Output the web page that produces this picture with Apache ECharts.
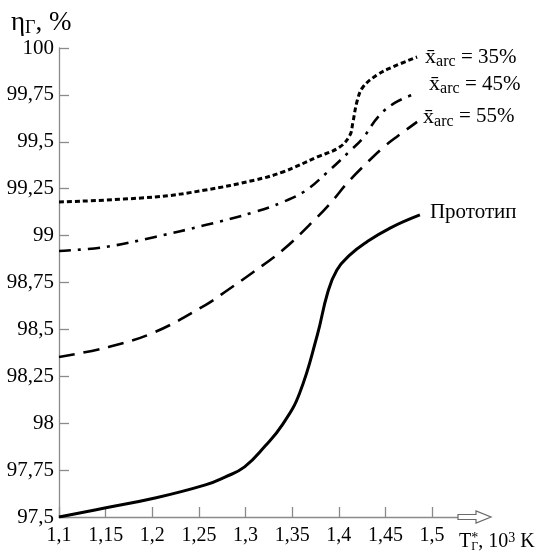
<!DOCTYPE html>
<html><head><meta charset="utf-8">
<script src="https://cdn.jsdelivr.net/npm/echarts@6/dist/echarts.min.js"></script>
<style>html,body{margin:0;padding:0;background:#fff}#c{width:536px;height:555px}</style>
</head><body><div id="c"></div>
<script>
// ---- data ----
const xTicks = [1.1, 1.15, 1.2, 1.25, 1.3, 1.35, 1.4, 1.45, 1.5];

const protoT   = [1.100, 1.149, 1.203, 1.257, 1.278, 1.299, 1.321, 1.340, 1.358, 1.377, 1.388, 1.398, 1.412, 1.430, 1.455, 1.487];
const protoEta = [97.500, 97.548, 97.601, 97.671, 97.713, 97.767, 97.878, 97.995, 98.160, 98.470, 98.694, 98.817, 98.897, 98.966, 99.040, 99.110];

const arc35T   = [1.100, 1.203, 1.257, 1.310, 1.340, 1.377, 1.401, 1.412, 1.415, 1.420, 1.426, 1.441, 1.458, 1.484];
const arc35Eta = [99.179, 99.206, 99.243, 99.296, 99.339, 99.419, 99.472, 99.536, 99.600, 99.723, 99.792, 99.856, 99.899, 99.952];

const arc45T   = [1.100, 1.149, 1.203, 1.257, 1.310, 1.340, 1.364, 1.388, 1.412, 1.426, 1.442, 1.460, 1.484];
const arc45Eta = [98.918, 98.939, 98.993, 99.056, 99.126, 99.179, 99.238, 99.339, 99.451, 99.520, 99.632, 99.707, 99.760];

const arc55T   = [1.100, 1.153, 1.203, 1.257, 1.281, 1.307, 1.340, 1.377, 1.394, 1.409, 1.430, 1.447, 1.462, 1.484];
const arc55Eta = [98.353, 98.406, 98.486, 98.630, 98.710, 98.801, 98.923, 99.099, 99.190, 99.280, 99.387, 99.467, 99.526, 99.606];

const seriesNames = ['35%', '45%', '55%', 'Прототип'];

// ---- chart ----
const FONT = '"Liberation Serif", "Times New Roman", serif';
const zip = (a, b) => a.map((v, i) => [v, b[i]]);
const fmt = v => String(+(+v).toFixed(2)).replace('.', ',');
const AX = '#8a8a8a';

const arcRich = {
  x: {fontFamily: FONT, fontSize: 22, color: '#000', lineHeight: 26},
  s: {fontFamily: FONT, fontSize: 16, color: '#000', lineHeight: 16, verticalAlign: 'bottom'},
  t: {fontFamily: FONT, fontSize: 21, color: '#000', lineHeight: 26}
};
const arcLabel = (name, off) => ({
  show: true, distance: 0, offset: off,
  formatter: '{x|x\u0304}{s|arc}{t| = ' + name + '}',
  rich: arcRich
});

const base = {type: 'line', showSymbol: false, smooth: 0.4, silent: true};

const chart = echarts.init(document.getElementById('c'));
chart.setOption({
  animation: false,
  backgroundColor: '#fff',
  grid: {left: 59, top: 48, right: 76, bottom: 38},
  xAxis: {
    type: 'value', min: 1.1, max: 1.53, interval: 0.05,
    axisLine: {show: true, lineStyle: {color: AX, width: 1.3}},
    axisTick: {show: true, inside: true, length: 10, lineStyle: {color: AX, width: 1.3}, customValues: xTicks},
    axisLabel: {customValues: xTicks, formatter: fmt, fontFamily: FONT, fontSize: 20, color: '#000', margin: 9},
    splitLine: {show: false}
  },
  yAxis: {
    type: 'value', min: 97.5, max: 100, interval: 0.25,
    axisLine: {show: true, lineStyle: {color: AX, width: 1.3}},
    axisTick: {show: true, inside: true, length: 10, lineStyle: {color: AX, width: 1.3}},
    axisLabel: {formatter: fmt, fontFamily: FONT, fontSize: 21, color: '#000', margin: 5},
    splitLine: {show: false}
  },
  series: [
    Object.assign({}, base, {name: seriesNames[0], data: zip(arc35T, arc35Eta),
      lineStyle: {color: '#000', width: 3, type: [5, 3]},
      endLabel: arcLabel(seriesNames[0], [8, 0])}),
    Object.assign({}, base, {name: seriesNames[1], data: zip(arc45T, arc45Eta),
      lineStyle: {color: '#000', width: 2.6, type: [12, 7, 3, 7]},
      endLabel: arcLabel(seriesNames[1], [12, -9])}),
    Object.assign({}, base, {name: seriesNames[2], data: zip(arc55T, arc55Eta),
      lineStyle: {color: '#000', width: 2.6, type: [16, 9]},
      endLabel: arcLabel(seriesNames[2], [6, -5])}),
    Object.assign({}, base, {name: seriesNames[3], data: zip(protoT, protoEta), smooth: 0.45,
      lineStyle: {color: '#000', width: 3},
      endLabel: {show: true, distance: 0, offset: [10, -2], formatter: seriesNames[3],
        fontFamily: FONT, fontSize: 21, color: '#000'}})
  ]
});

// decorations: hollow arrow at end of x axis and axis names
const end = chart.convertToPixel({gridIndex: 0}, [1.53, 97.5]);
const ex = end[0], ey = end[1];
chart.setOption({
  graphic: [
    {type: 'polygon', shape: {points: [[ex - 2, ey - 2.5], [ex + 16, ey - 2.5], [ex + 16, ey - 6], [ex + 31, ey], [ex + 16, ey + 6], [ex + 16, ey + 2.5], [ex - 2, ey + 2.5]]},
      style: {fill: '#fff', stroke: '#6a6a6a', lineWidth: 1.2}, z: 10},
    {type: 'text', left: 11, top: 9, z: 10,
      style: {text: '{m|\u03b7}{s|\u0393}{m|, %}', rich: {
        m: {fontFamily: FONT, fontSize: 27, color: '#000', lineHeight: 30},
        s: {fontFamily: FONT, fontSize: 18, color: '#000', lineHeight: 18, verticalAlign: 'bottom'}
      }}},
    {type: 'text', left: 459, top: 531, z: 10,
      style: {text: '{m|T}{u|*}{s|\u0393}{m|, 10}{p|3}{m| K}', rich: {
        m: {fontFamily: FONT, fontSize: 20, color: '#000', lineHeight: 22},
        u: {fontFamily: FONT, fontSize: 14, color: '#000', lineHeight: 14, verticalAlign: 'top'},
        s: {fontFamily: FONT, fontSize: 12, color: '#000', lineHeight: 12, verticalAlign: 'bottom', padding: [0, 0, 0, -7]},
        p: {fontFamily: FONT, fontSize: 14, color: '#000', lineHeight: 14, verticalAlign: 'top'}
      }}}
  ]
});
</script>
</body></html>
